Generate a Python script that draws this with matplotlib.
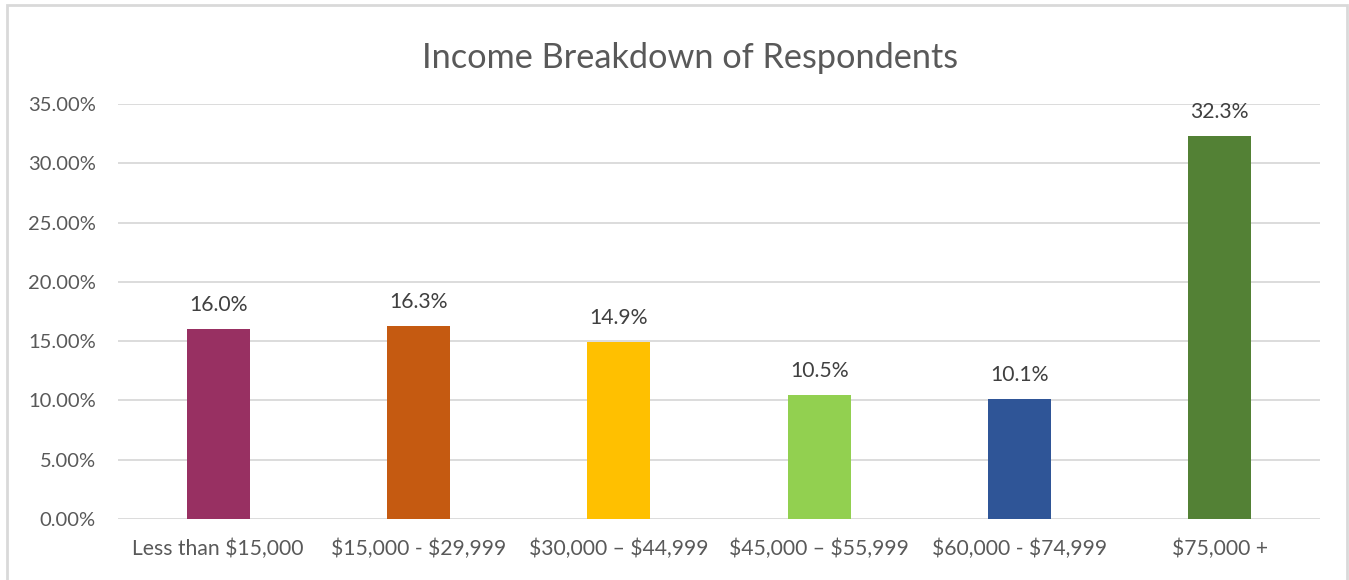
import matplotlib
matplotlib.use("Agg")
import matplotlib.pyplot as plt
from matplotlib.ticker import PercentFormatter, MultipleLocator
from matplotlib.patches import Rectangle

categories = ["Less than $15,000", "$15,000 - $29,999", "$30,000 \u2013 $44,999",
              "$45,000 \u2013 $55,999", "$60,000 - $74,999", "$75,000 +"]
values = [16.0, 16.3, 14.9, 10.5, 10.1, 32.3]
labels = ["16.0%", "16.3%", "14.9%", "10.5%", "10.1%", "32.3%"]
colors = ["#983062", "#C55A11", "#FFC000", "#92D050", "#2F5597", "#538135"]

plt.rcParams['font.family'] = ['Lato', 'DejaVu Sans']

W, H = 1349, 580
fig = plt.figure(figsize=(W/100, H/100), dpi=100)
fig.patch.set_facecolor("white")
fig.add_artist(Rectangle((7/W, -0.1), (1347-7)/W, 1.1 - 5/H, transform=fig.transFigure,
                         fill=False, edgecolor="#D9D9D9", linewidth=2))

ax = fig.add_axes([118/W, 61/H, (1320-118)/W, (519-104)/H])
x = list(range(len(categories)))
fracs = [v/100 for v in values]
bars = ax.bar(x, fracs, width=0.315, color=colors, zorder=3)
ax.set_xlim(-0.5, len(categories)-0.5)
ax.set_ylim(0, 0.35)
ax.yaxis.set_major_locator(MultipleLocator(0.05))
ax.yaxis.set_major_formatter(PercentFormatter(1, decimals=2))
ax.grid(axis="y", color="#D9D9D9", linewidth=1.3, zorder=0)
for s in ax.spines.values():
    s.set_visible(False)
ax.tick_params(axis="both", length=0, colors="#595959")
ax.tick_params(axis="y", pad=16, labelsize=14.5)
ax.tick_params(axis="x", pad=14, labelsize=15.2)
ax.set_xticks(x)
ax.set_xticklabels([c.replace("$", r"\$") for c in categories])

for b, lab in zip(bars, labels):
    ax.annotate(lab, (b.get_x() + b.get_width()/2, b.get_height()),
                xytext=(0, 10), textcoords="offset points", ha="center", va="bottom",
                fontsize=15.2, color="#404040")

fig.text(690/W, 1 - 58/H, "Income Breakdown of Respondents", ha="center", va="center",
         fontsize=24.7, color="#595959")

fig.savefig("out.png", dpi=100)
